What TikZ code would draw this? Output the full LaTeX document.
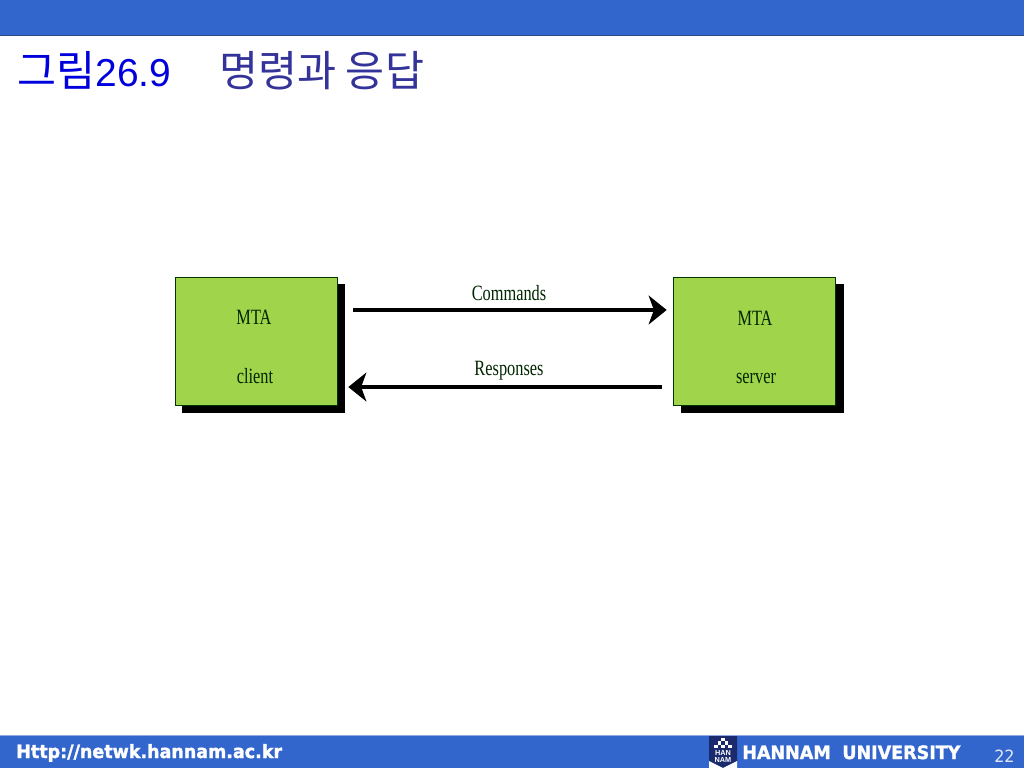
\documentclass[tikz,border=0pt]{standalone}
\usepackage{fontspec}
\setmainfont{Liberation Sans}
\newfontfamily\korfont[Scale=1.09]{Noto Sans CJK KR}
\newfontfamily\figfont[FakeStretch=0.75]{Liberation Serif}
\newfontfamily\footfont[FakeStretch=0.95,BoldFeatures={FakeBold=1.6}]{DejaVu Sans}
\usetikzlibrary{arrows.meta, positioning}
\definecolor{barblue}{HTML}{3366CC}
\definecolor{bardark}{HTML}{2A4A85}
\definecolor{barlight}{HTML}{8FAADC}
\definecolor{boxgreen}{HTML}{A0D44A}
\definecolor{titleblue}{HTML}{0000DD}
\definecolor{titlenavy}{HTML}{333399}
\definecolor{logonavy}{HTML}{1A2A6C}

\begin{document}
\begin{tikzpicture}[x=0.025cm,y=-0.025cm]
    \tikzstyle{mta}=[rectangle,draw=black!80!green,line width=0.03cm,fill=boxgreen,minimum width=4.06cm,minimum height=3.2cm,inner sep=0pt]
    \tikzstyle{shadowbox}=[rectangle,fill=black,minimum width=4.06cm,minimum height=3.2cm,inner sep=0pt]
    \tikzstyle{boxtext}=[inner sep=0pt,anchor=base,font=\figfont\fontsize{15.5}{18}\selectfont,text=black!85!green]
    \tikzstyle{msg}=[-{Stealth[length=0.45cm,width=0.72cm,inset=0.13cm]},line width=0.085cm,black]
    \tikzstyle{title}=[inner sep=0pt,anchor=base west,font=\fontsize{27.7}{32}\selectfont]
    \tikzstyle{foot}=[inner sep=0pt,anchor=base west,text=white,font=\footfont\bfseries\fontsize{13.1}{15}\selectfont]

    \useasboundingbox (0,0) rectangle (1024,768);
    \fill[white] (0,0) rectangle (1024,768);

    % bars
    \fill[barblue] (0,0) rectangle (1024,35);
    \fill[bardark] (0,35) rectangle (1024,36.5);
    \fill[barblue] (0,735) rectangle (1024,768);
    \fill[barlight] (0,734.5) rectangle (1024,736);

    % title
    \node[title,text=titleblue] (fignum) at (17,87) {{\korfont 그림}26.9};
    \node[title,text=titlenavy] (figname) at (219,87) {\korfont 명령과 응답};

    % boxes
    \node[shadowbox] (clientshadow) at (263.5,348.5) {};
    \node[shadowbox] (servershadow) at (762.5,348.5) {};
    \node[mta] (client) at (256.5,341.5) {};
    \node[mta] (server) at (754.5,341.5) {};

    \node[boxtext] (clienttop) at (254,324) {MTA};
    \node[boxtext] (clientbot) at (255,383) {client};
    \node[boxtext] (servertop) at (755,325) {MTA};
    \node[boxtext] (serverbot) at (756,383) {server};

    % messages
    \draw[msg,shorten <=0.375cm,shorten >=0.15cm] ([yshift=0.7875cm]client.east) -- ([yshift=0.7875cm]server.west);
    \draw[msg,shorten <=0.275cm,shorten >=0.25cm] ([yshift=-1.1375cm]server.west) -- ([yshift=-1.1375cm]client.east);
    \node[boxtext] (cmdlabel) at (509,300) {Commands};
    \node[boxtext] (resplabel) at (509,375) {Responses};

    % footer
    \node[foot] (url) at (16,758) {Http://netwk.hannam.ac.kr};
    \fill[logonavy] (709,736) -- (737,736) -- (737,761) -- (723,768) -- (709,761) -- cycle;
    \fill[white] (709,761) -- (723,768) -- (737,761) -- (737,768) -- (709,768) -- cycle;
    \foreach \px/\py in {723/739.5,719.5/743,726.5/743,716/746.5,723/746.5,730/746.5}
        \fill[white] (\px-1.6,\py-1.6) rectangle (\px+1.6,\py+1.6);
    \node[inner sep=0pt,text=white,align=center,font=\bfseries\fontsize{5.2}{5.2}\selectfont] (logotext) at (723,756.5) {HAN\\NAM};
    \node[foot] (uni) at (742,759) {HANNAM\hspace{0.3em} UNIVERSITY};
    \node[inner sep=0pt,anchor=base west,text=white!85!barblue,font=\footfont\fontsize{12}{14}\selectfont] (pagenum) at (994,762) {22};
\end{tikzpicture}
\end{document}
